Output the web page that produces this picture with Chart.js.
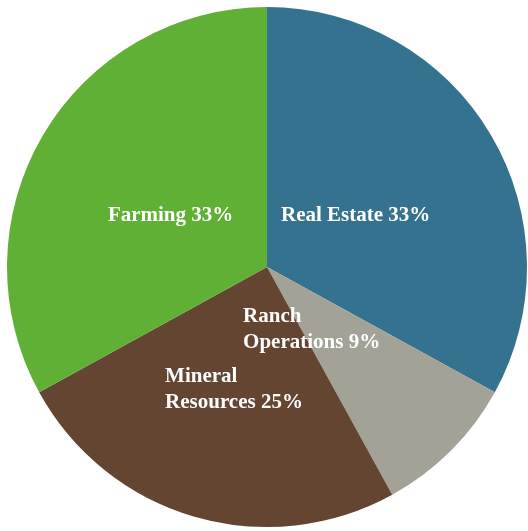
<!DOCTYPE html>
<html>
<head>
<meta charset="utf-8">
<script src="https://cdn.jsdelivr.net/npm/chart.js@4"></script>
<style>
  html,body{margin:0;padding:0;background:#fff}
  #wrap{width:528px;height:531px}
</style>
</head>
<body>
<div id="wrap"><canvas id="pie"></canvas></div>
<script>
// slices, clockwise from 12 o'clock
const categories = ['Real Estate', 'Ranch Operations', 'Mineral Resources', 'Farming']
const shares = [33, 9, 25, 33]
const colors = ['#35728f', '#a2a296', '#634532', '#60b036']

// label placement: left edge + first baseline, as fraction of radius from centre
const labelPos = [[0.054, -0.177], [-0.092, 0.212], [-0.392, 0.442], [-0.612, -0.177]]
const wrapLabel = [false, true, true, false]

function labelLines(i){
  const txt = categories[i] + ' ' + shares[i] + '%'
  if(!wrapLabel[i]) return [txt]
  const k = txt.indexOf(' ')
  return [txt.slice(0,k), txt.slice(k+1)]
}

const sliceLabels = {
  id: 'sliceLabels',
  afterDatasetsDraw(chart){
    const ctx = chart.ctx
    const arcs = chart.getDatasetMeta(0).data
    ctx.save()
    ctx.fillStyle = '#fff'
    ctx.font = 'bold 21px "Liberation Serif", "Times New Roman", serif'
    ctx.textAlign = 'left'
    ctx.textBaseline = 'alphabetic'
    arcs.forEach((arc, i)=>{
      const r = arc.outerRadius
      const x = arc.x + labelPos[i][0]*r
      const y = arc.y + labelPos[i][1]*r
      labelLines(i).forEach((line, j)=> ctx.fillText(line, x, y + j*26))
    })
    ctx.restore()
  }
}

new Chart(document.getElementById('pie'), {
  type: 'pie',
  data: {
    labels: categories,
    datasets: [{ data: shares, backgroundColor: colors, borderWidth: 0 }]
  },
  options: {
    responsive: true,
    maintainAspectRatio: false,
    animation: false,
    layout: { padding: { left: 7, right: 1, top: 7, bottom: 4 } },
    plugins: { legend: { display: false }, tooltip: { enabled: false } }
  },
  plugins: [sliceLabels]
})
</script>
</body>
</html>
